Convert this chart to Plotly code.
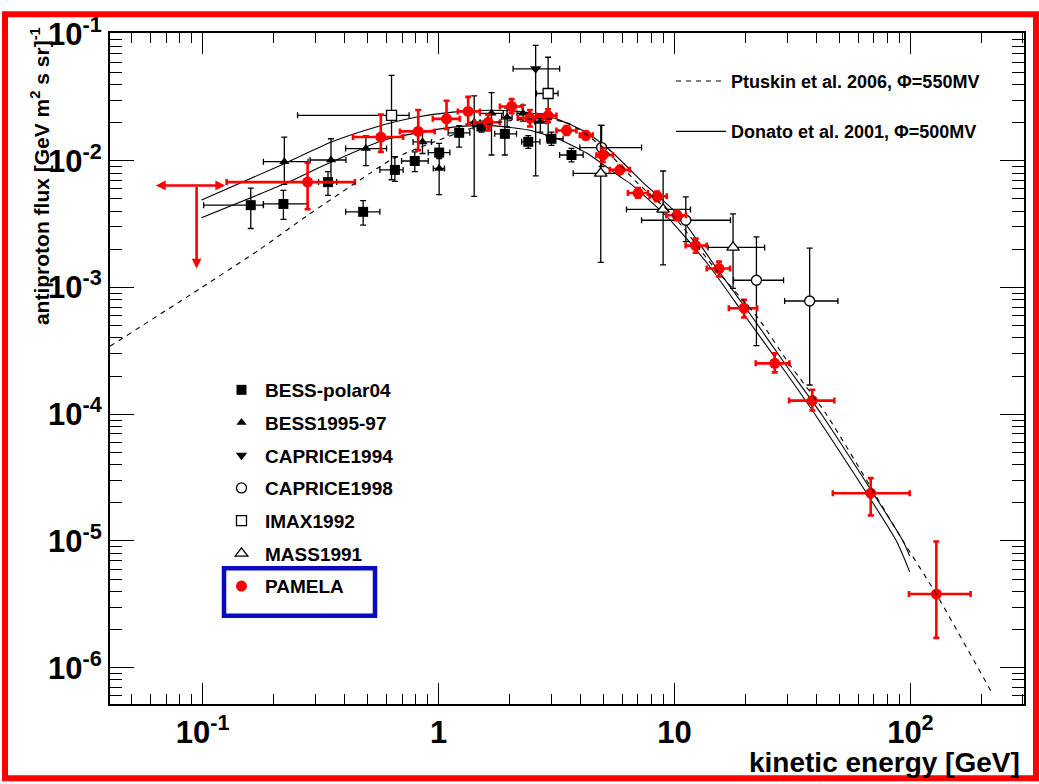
import numpy as np
import plotly.graph_objects as go

# ---------------- data: antiproton flux [GeV m^2 s sr]^-1 vs kinetic energy [GeV]
bess_polar_E = [0.160, 0.220, 0.340, 0.479, 0.653, 0.793, 1.006, 1.223, 1.52, 1.91, 2.40, 3.01, 3.66]
bess_polar_F = [4.46e-3, 4.56e-3, 6.78e-3, 3.95e-3, 8.46e-3, 9.95e-3, 1.16e-2, 1.66e-2, 1.86e-2, 1.63e-2, 1.41e-2, 1.49e-2, 1.11e-2]
bess_polar_Elo = [0.101, 0.181, 0.31, 0.404, 0.564, 0.697, 0.904, 1.098, 1.40, 1.73, 2.25, 2.87, 3.26]
bess_polar_Ehi = [0.181, 0.280, 0.37, 0.564, 0.708, 0.904, 1.117, 1.357, 1.65, 2.14, 2.69, 3.37, 4.10]
bess_polar_Flo = [2.92e-3, 3.45e-3, 5.33e-3, 3.10e-3, 6.86e-3, 8.2e-3, 1.04e-2, 1.28e-2, 1.68e-2, 1.11e-2, 1.25e-2, 1.32e-2, 9.8e-3]
bess_polar_Fhi = [6.08e-3, 5.83e-3, 8.2e-3, 4.85e-3, 1.075e-2, 1.175e-2, 1.37e-2, 1.89e-2, 2.05e-2, 2.20e-2, 1.58e-2, 1.68e-2, 1.25e-2]

bess9597_E = [0.222, 0.350, 0.492, 0.855, 1.006, 1.416, 1.677, 1.953, 2.28, 2.70]
bess9597_F = [9.82e-3, 1.013e-2, 1.248e-2, 1.406e-2, 8.7e-3, 2.01e-2, 2.366e-2, 2.20e-2, 2.37e-2, 2.04e-2]
bess9597_Elo = [0.181, 0.2855, 0.4036, 0.78, 0.95, 1.33, 1.50, 1.85, 2.15, 2.55]
bess9597_Ehi = [0.280, 0.405, 0.602, 0.934, 1.06, 1.50, 1.88, 2.05, 2.42, 2.85]
bess9597_Flo = [6.5e-3, 6.65e-3, 9.14e-3, 1.14e-2, 5.4e-3, 5.24e-3, 1.11e-2, 1.85e-2, 2.05e-2, 1.68e-2]
bess9597_Fhi = [1.538e-2, 1.49e-2, 1.57e-2, 1.68e-2, 1.07e-2, 3.25e-2, 3.45e-2, 2.6e-2, 2.75e-2, 2.34e-2]

caprice94_E = [2.58]
caprice94_F = [5.31e-2]
caprice94_Elo = [2.07]
caprice94_Ehi = [3.26]
caprice94_Flo = [7.6e-3]
caprice94_Fhi = [8.12e-2]

caprice98_E = [4.91, 11.17, 22.25, 37.4]
caprice98_F = [1.27e-2, 3.39e-3, 1.14e-3, 7.82e-4]
caprice98_Elo = [3.97, 7.25, 17.8, 29.3]
caprice98_Ehi = [7.25, 17.27, 29.0, 49.3]
caprice98_Flo = [9.0e-3, 2.3e-3, 3.48e-4, 1.70e-4]
caprice98_Fhi = [1.9e-2, 5.18e-3, 2.51e-3, 2.04e-3]

imax_E = [0.632, 2.914]
imax_F = [2.28e-2, 3.39e-2]
imax_Elo = [0.2526, 2.60]
imax_Ehi = [0.75, 3.21]
imax_Flo = [7.08e-3, 1.58e-2]
imax_Fhi = [4.71e-2, 6.55e-2]

mass_E = [4.87, 8.95, 17.71]
mass_F = [7.96e-3, 4.13e-3, 2.07e-3]
mass_Elo = [3.72, 6.26, 13.88]
mass_Ehi = [5.87, 11.69, 24.1]
mass_Flo = [1.58e-3, 1.51e-3, 9.82e-4]
mass_Fhi = [1.9e-2, 8.3e-3, 3.81e-3]

pamela_E = [0.2786, 0.5694, 0.820, 1.081, 1.335, 1.623, 2.04, 2.44, 2.91, 3.49, 4.21, 4.97,
            5.87, 7.01, 8.44, 10.26, 12.3, 15.45, 19.72, 26.6, 38.4, 67.9, 128.8]
pamela_F = [6.78e-3, 1.538e-2, 1.703e-2, 2.14e-2, 2.45e-2, 2.01e-2, 2.68e-2, 2.17e-2, 2.27e-2, 1.734e-2,
            1.585e-2, 1.107e-2, 8.47e-3, 5.56e-3, 5.24e-3, 3.71e-3, 2.14e-3, 1.41e-3, 6.86e-4, 2.52e-4,
            1.28e-4, 2.38e-5, 3.81e-6]
pamela_Elo = [0.1264, 0.434, 0.686, 0.946, 1.207, 1.42, 1.82, 2.17, 2.60, 3.16, 3.97, 4.67,
              5.32, 6.35, 7.84, 9.23, 11.15, 13.7, 17.0, 22.1, 30.6, 46.9, 98.6]
pamela_Ehi = [0.442, 0.708, 0.964, 1.231, 1.497, 1.82, 2.27, 2.77, 3.16, 3.84, 4.50, 5.49,
              6.47, 7.72, 9.28, 11.2, 13.7, 17.2, 22.4, 30.7, 47.6, 99.3, 179.9]
pamela_Flo = [4.15e-3, 1.175e-2, 1.21e-2, 1.78e-2, 1.93e-2, 1.73e-2, 2.37e-2, 1.86e-2, 2.01e-2, 1.6e-2,
              1.47e-2, 9.8e-3, 7.9e-3, 5.1e-3, 4.8e-3, 3.4e-3, 1.88e-3, 1.22e-3, 5.8e-4, 2.14e-4,
              1.07e-4, 1.59e-5, 1.72e-6]
pamela_Fhi = [9.65e-3, 2.31e-2, 2.51e-2, 2.97e-2, 3.19e-2, 2.31e-2, 3.06e-2, 2.51e-2, 2.55e-2, 1.88e-2,
              1.7e-2, 1.26e-2, 9.1e-3, 6.1e-3, 5.7e-3, 4.05e-3, 2.43e-3, 1.6e-3, 7.98e-4, 3.02e-4,
              1.56e-4, 3.13e-5, 9.9e-6]

# PAMELA lowest-energy bin: upper limit
pamela_ul_E = 0.0943
pamela_ul_F = 6.38e-3
pamela_ul_Elo = 0.0634
pamela_ul_Ehi = 0.1264
pamela_ul_Fend = 1.41e-3

# theoretical secondary-production predictions
ptuskin_E = [0.0405, 0.0975, 0.175, 0.276, 0.512, 0.642, 1.0, 1.36, 2.0, 2.8, 3.6, 4.9, 6.98, 9.9,
             14.5, 22.6, 30.6, 44, 93, 128.8, 224]
ptuskin_F = [3.44e-4, 9.8e-4, 2.0e-3, 3.66e-3, 7.96e-3, 1.04e-2, 1.45e-2, 1.79e-2, 2.07e-2, 2.15e-2,
             1.95e-2, 1.3e-2, 6.65e-3, 3.66e-3, 1.49e-3, 5.74e-4, 2.5e-4, 1e-4, 1e-5, 3.8e-6, 6.1e-7]

donato_up_E = [0.099, 0.217, 0.353, 0.54, 0.8, 1.15, 1.7, 2.4, 3.2, 4.2, 5.3, 7.4, 10.5, 14.8,
               21.5, 29.4, 42, 93, 99.3]
donato_up_F = [4.9e-3, 9.3e-3, 1.41e-2, 1.84e-2, 2.2e-2, 2.42e-2, 2.5e-2, 2.4e-2, 2.12e-2, 1.68e-2,
               1.22e-2, 6.65e-3, 3.66e-3, 1.49e-3, 5.74e-4, 2.5e-4, 1e-4, 1e-5, 7.6e-6]

donato_lo_E = [0.099, 0.217, 0.353, 0.575, 0.8, 1.15, 1.6, 2.4, 3.2, 4.24, 5.87, 6.46, 9.25, 14.0,
               20.2, 27.9, 39.4, 87.2, 99.3]
donato_lo_F = [3.55e-3, 6.45e-3, 9.8e-3, 1.44e-2, 1.65e-2, 1.84e-2, 1.9e-2, 1.75e-2, 1.49e-2, 1.15e-2,
               7.5e-3, 6.65e-3, 3.66e-3, 1.49e-3, 5.74e-4, 2.5e-4, 1e-4, 1e-5, 5.7e-6]

x_tick_vals = [0.1, 1, 10, 100]
x_tick_text = ["10<sup>-1</sup>", "1", "10", "10<sup>2</sup>"]
y_tick_vals = [1e-6, 1e-5, 1e-4, 1e-3, 1e-2, 1e-1]
y_tick_text = ["10<sup>-6</sup>", "10<sup>-5</sup>", "10<sup>-4</sup>", "10<sup>-3</sup>",
               "10<sup>-2</sup>", "10<sup>-1</sup>"]

# ---------------- figure
W, H = 1039, 784
ML, MR, MT, MB = 110, 15, 27, 80
PW, PH = W - ML - MR, H - MT - MB
FONT = "Liberation Sans, Arial, Helvetica, sans-serif"
X_RANGE = [np.log10(0.0405), np.log10(303)]
Y_RANGE = [np.log10(5.17e-7), np.log10(0.1018)]


def px_x(px):
    return (px - ML) / PW


def px_y(py):
    return (H - MB - py) / PH


def errs(v, lo, hi):
    v, lo, hi = np.asarray(v), np.asarray(lo), np.asarray(hi)
    return hi - v, v - lo


def minor_vals(lo_dec, hi_dec):
    out = []
    for d in range(lo_dec, hi_dec + 1):
        for m in range(2, 10):
            out.append(m * 10.0 ** d)
    return out


fig = go.Figure()

# model curves (the dashed one lives on the overlay axes that carry the minor ticks)
fig.add_trace(go.Scatter(
    x=ptuskin_E, y=ptuskin_F, mode="lines", xaxis="x2", yaxis="y2",
    line=dict(color="black", width=1.1, dash="5px,5px", shape="spline", smoothing=0.6),
    name="<b>Ptuskin et al. 2006, \u03a6=550MV</b>", legend="legend", legendgroup="pt"))
fig.add_trace(go.Scatter(
    x=donato_up_E, y=donato_up_F, mode="lines", line=dict(color="black", width=1.1, shape="spline", smoothing=0.6),
    name="<b>Donato et al. 2001, \u03a6=500MV</b>", legend="legend", legendgroup="do"))
fig.add_trace(go.Scatter(
    x=donato_lo_E, y=donato_lo_F, mode="lines", line=dict(color="black", width=1.1, shape="spline", smoothing=0.6),
    showlegend=False, legendgroup="do"))


def add_data(name, E, F, Elo, Ehi, Flo, Fhi, symbol, size, color="black", fill="black",
             bar_w=1.3, cap=3, mline=1.3):
    ex_p, ex_m = errs(E, Elo, Ehi)
    ey_p, ey_m = errs(F, Flo, Fhi)
    fig.add_trace(go.Scatter(
        x=E, y=F, mode="markers", name="<b>" + name + "</b>", legend="legend2", legendgroup=name,
        marker=dict(symbol=symbol, size=size, color=fill, line=dict(color=color, width=mline)),
        error_x=dict(type="data", symmetric=False, array=ex_p, arrayminus=ex_m, color=color,
                     thickness=bar_w, width=cap),
        error_y=dict(type="data", symmetric=False, array=ey_p, arrayminus=ey_m, color=color,
                     thickness=bar_w, width=cap)))


add_data("BESS-polar04", bess_polar_E, bess_polar_F, bess_polar_Elo, bess_polar_Ehi,
         bess_polar_Flo, bess_polar_Fhi, "square", 10, mline=0)
add_data("BESS1995-97", bess9597_E, bess9597_F, bess9597_Elo, bess9597_Ehi,
         bess9597_Flo, bess9597_Fhi, "triangle-up", 9, mline=0)
add_data("CAPRICE1994", caprice94_E, caprice94_F, caprice94_Elo, caprice94_Ehi,
         caprice94_Flo, caprice94_Fhi, "triangle-down", 10, mline=0)
add_data("CAPRICE1998", caprice98_E, caprice98_F, caprice98_Elo, caprice98_Ehi,
         caprice98_Flo, caprice98_Fhi, "circle", 10, fill="white")
add_data("IMAX1992", imax_E, imax_F, imax_Elo, imax_Ehi, imax_Flo, imax_Fhi,
         "square", 10, fill="white")
add_data("MASS1991", mass_E, mass_F, mass_Elo, mass_Ehi, mass_Flo, mass_Fhi,
         "triangle-up", 11, fill="white")
add_data("PAMELA", pamela_E, pamela_F, pamela_Elo, pamela_Ehi, pamela_Flo, pamela_Fhi,
         "circle", 11, color="#ff0000", fill="#ff0000", bar_w=2.6, cap=3, mline=0)

# PAMELA upper limit drawn as arrows
lg = np.log10
annotations = [
    dict(x=lg(pamela_ul_E), y=lg(pamela_ul_Fend), ax=lg(pamela_ul_E), ay=lg(pamela_ul_F),
         xref="x", yref="y", axref="x", ayref="y", text="", showarrow=True,
         arrowhead=2, arrowsize=0.75, arrowwidth=2.6, arrowcolor="#ff0000"),
    dict(x=lg(pamela_ul_Elo), y=lg(pamela_ul_F), ax=lg(pamela_ul_Ehi), ay=lg(pamela_ul_F),
         xref="x", yref="y", axref="x", ayref="y", text="", showarrow=True,
         arrowhead=2, startarrowhead=2, arrowside="end+start", arrowsize=0.75,
         startarrowsize=0.75, arrowwidth=2.6, arrowcolor="#ff0000"),
    # axis titles
    dict(x=px_x(1022), y=px_y(763), xref="paper", yref="paper", xanchor="right", yanchor="middle",
         text="<b>kinetic energy [GeV]</b>", showarrow=False,
         font=dict(family=FONT, size=28, color="black")),
    dict(x=px_x(40), y=px_y(19), xref="paper", yref="paper", xanchor="center", yanchor="top",
         text="<b>antiproton flux [GeV m<sup>2</sup> s sr]<sup>-1</sup></b>", textangle=-90,
         showarrow=False, font=dict(family=FONT, size=21, color="black")),
]

axis_common = dict(
    type="log", showline=True, linecolor="black", linewidth=2, mirror="allticks",
    ticks="inside", tickcolor="black", tickwidth=1.3, showgrid=False, zeroline=False,
    tickmode="array", tickfont=dict(family=FONT, size=31, color="black"),
)
minor_common = dict(
    type="log", showline=False, mirror="allticks", ticks="inside", tickcolor="black",
    tickwidth=1.3, showgrid=False, zeroline=False, tickmode="array", showticklabels=False,
)

fig.update_layout(
    width=W, height=H, autosize=False,
    margin=dict(l=ML, r=MR, t=MT, b=MB, pad=0),
    paper_bgcolor="white", plot_bgcolor="white",
    xaxis=dict(**axis_common, range=X_RANGE, tickvals=x_tick_vals,
               ticktext=["<b>%s</b>" % t for t in x_tick_text], ticklen=21),
    yaxis=dict(**axis_common, range=Y_RANGE, tickvals=y_tick_vals,
               ticktext=["<b>%s</b>" % t for t in y_tick_text], ticklen=24),
    xaxis2=dict(**minor_common, overlaying="x", anchor="y2", side="bottom", range=X_RANGE,
                tickvals=minor_vals(-2, 2), ticklen=10),
    yaxis2=dict(**minor_common, overlaying="y", anchor="x2", side="left", range=Y_RANGE,
                tickvals=minor_vals(-7, -1), ticklen=12),
    legend=dict(x=px_x(671), y=px_y(57), xanchor="left", yanchor="top", bgcolor="rgba(0,0,0,0)",
                font=dict(family=FONT, size=18, color="black"), itemwidth=50,
                tracegroupgap=24, traceorder="grouped"),
    legend2=dict(x=px_x(218), y=px_y(368), xanchor="left", yanchor="top", bgcolor="rgba(0,0,0,0)",
                 font=dict(family=FONT, size=19, color="black"), itemwidth=37,
                 tracegroupgap=5, traceorder="grouped"),
    annotations=annotations,
    shapes=[
        # highlight box around the PAMELA legend entry
        dict(type="rect", xref="paper", yref="paper", x0=px_x(224), x1=px_x(375),
             y0=px_y(615), y1=px_y(567), line=dict(color="#0a0ac0", width=4.5)),
        # outer red frame
        dict(type="rect", xref="paper", yref="paper", x0=px_x(5), x1=px_x(1036),
             y0=px_y(779), y1=px_y(8), line=dict(color="#ff0000", width=6)),
    ],
)

fig.write_html("out.html")
